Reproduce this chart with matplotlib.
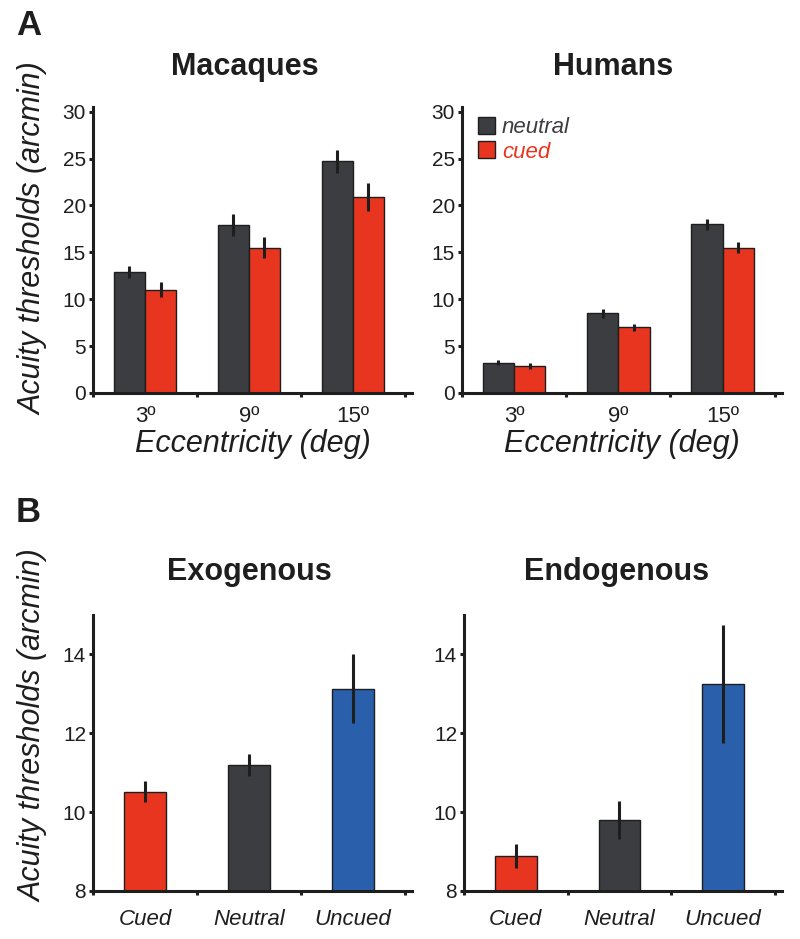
import numpy as np
import matplotlib.pyplot as plt

plt.rcParams['font.family'] = ['Liberation Sans', 'DejaVu Sans']

# panel A data (arcmin)
ecc_labels = ['3º', '9º', '15º']
mac_neutral = [12.9, 17.9, 24.7]
mac_neutral_err = [0.65, 1.2, 1.2]
mac_cued = [11.0, 15.5, 20.9]
mac_cued_err = [0.8, 1.15, 1.45]
hum_neutral = [3.25, 8.5, 18.0]
hum_neutral_err = [0.3, 0.45, 0.6]
hum_cued = [2.9, 7.0, 15.5]
hum_cued_err = [0.3, 0.4, 0.55]

# panel B data (arcmin)
cond_labels = ['Cued', 'Neutral', 'Uncued']
exo_means = [10.52, 11.19, 13.13]
exo_err = [0.27, 0.28, 0.88]
endo_means = [8.89, 9.81, 13.25]
endo_err = [0.3, 0.48, 1.49]

DARK = '#3b3d40'
RED = '#e8351f'
BLUE = '#2a5fac'
INK = '#1e1e1e'
W, H = 800, 939


def px_axes(fig, left, right, top, bottom):
    return fig.add_axes([left / W, 1 - bottom / H, (right - left) / W, (bottom - top) / H])


def style_axes(ax, xlabelsize, xlabelstyle, xpad):
    for s in ['top', 'right']:
        ax.spines[s].set_visible(False)
    for s in ['left', 'bottom']:
        ax.spines[s].set_linewidth(2.2)
        ax.spines[s].set_color(INK)
    ax.set_xlim(-0.5, 2.57)
    ax.set_xticks([0, 1, 2])
    ax.set_xticks([-0.5, 0.5, 1.5, 2.5], minor=True)
    ax.tick_params(axis='x', which='major', length=0, pad=xpad, labelsize=xlabelsize)
    ax.tick_params(axis='x', which='minor', length=3, width=2.2, direction='out', color=INK)
    ax.tick_params(axis='y', length=3, width=2.2, direction='out', color=INK, pad=2,
                   labelsize=15, labelcolor=INK)
    for t in ax.get_xticklabels():
        t.set_fontstyle(xlabelstyle)
        t.set_color(INK)


fig = plt.figure(figsize=(8, 9.39), dpi=100)

x = np.arange(3)
bw = 0.3
eb = dict(fmt='none', ecolor=INK, elinewidth=2.2, capsize=0, zorder=3)

# ---- panel A ----
axA1 = px_axes(fig, 93, 412, 107, 393)
axA2 = px_axes(fig, 462, 782, 107, 393)
for ax, neu, neu_e, cue, cue_e, title, tx in [
        (axA1, mac_neutral, mac_neutral_err, mac_cued, mac_cued_err, 'Macaques', 245),
        (axA2, hum_neutral, hum_neutral_err, hum_cued, hum_cued_err, 'Humans', 613)]:
    b1 = ax.bar(x - bw / 2, neu, bw, color=DARK, edgecolor=INK, linewidth=1, zorder=2)
    b2 = ax.bar(x + bw / 2, cue, bw, color=RED, edgecolor=INK, linewidth=1, zorder=2)
    ax.errorbar(x - bw / 2, neu, yerr=neu_e, **eb)
    ax.errorbar(x + bw / 2, cue, yerr=cue_e, **eb)
    ax.set_ylim(0, 30.5)
    ax.set_yticks(range(0, 31, 5))
    ax.set_xticklabels(ecc_labels)
    style_axes(ax, 16, 'normal', 9)
    ax.set_xlabel('Eccentricity (deg)', fontsize=22, style='italic', labelpad=2, color=INK)
    fig.text(tx / W, 1 - 75 / H, title, fontsize=22, fontweight='bold', ha='center',
             va='baseline', color=INK)

leg = axA2.legend([b1, b2], ['neutral', 'cued'], loc='upper left', frameon=False,
                  bbox_to_anchor=(0.0, 1.02), handlelength=0.8, handleheight=0.8,
                  handletextpad=0.3, labelspacing=0.15, borderaxespad=0.3,
                  prop={'style': 'italic', 'size': 16})
leg.get_texts()[0].set_color(DARK)
leg.get_texts()[1].set_color(RED)

axA1.set_ylabel('Acuity thresholds (arcmin)', fontsize=22, style='italic', color=INK)
axA1.yaxis.set_label_coords(-0.14, 0.54)

# ---- panel B ----
axB1 = px_axes(fig, 93, 412, 615, 891)
axB2 = px_axes(fig, 464, 782, 615, 891)
cond_colors = [RED, DARK, BLUE]
for ax, means, errs, title, tx in [
        (axB1, exo_means, exo_err, 'Exogenous', 249),
        (axB2, endo_means, endo_err, 'Endogenous', 617)]:
    ax.bar(x, means, 0.4, color=cond_colors, edgecolor=INK, linewidth=1, zorder=2)
    ax.errorbar(x, means, yerr=errs, **eb)
    ax.set_ylim(8, 15)
    ax.set_yticks([8, 10, 12, 14])
    ax.set_xticklabels(cond_labels)
    style_axes(ax, 16, 'italic', 13)
    fig.text(tx / W, 1 - 580 / H, title, fontsize=22, fontweight='bold', ha='center',
             va='baseline', color=INK)

axB1.set_ylabel('Acuity thresholds (arcmin)', fontsize=22, style='italic', color=INK)
axB1.yaxis.set_label_coords(-0.14, 0.6)

fig.text(16 / W, 1 - 35 / H, 'A', fontsize=25, fontweight='bold', va='baseline', color=INK)
fig.text(16 / W, 1 - 522 / H, 'B', fontsize=25, fontweight='bold', va='baseline', color=INK)

fig.savefig('out.png', dpi=100)
